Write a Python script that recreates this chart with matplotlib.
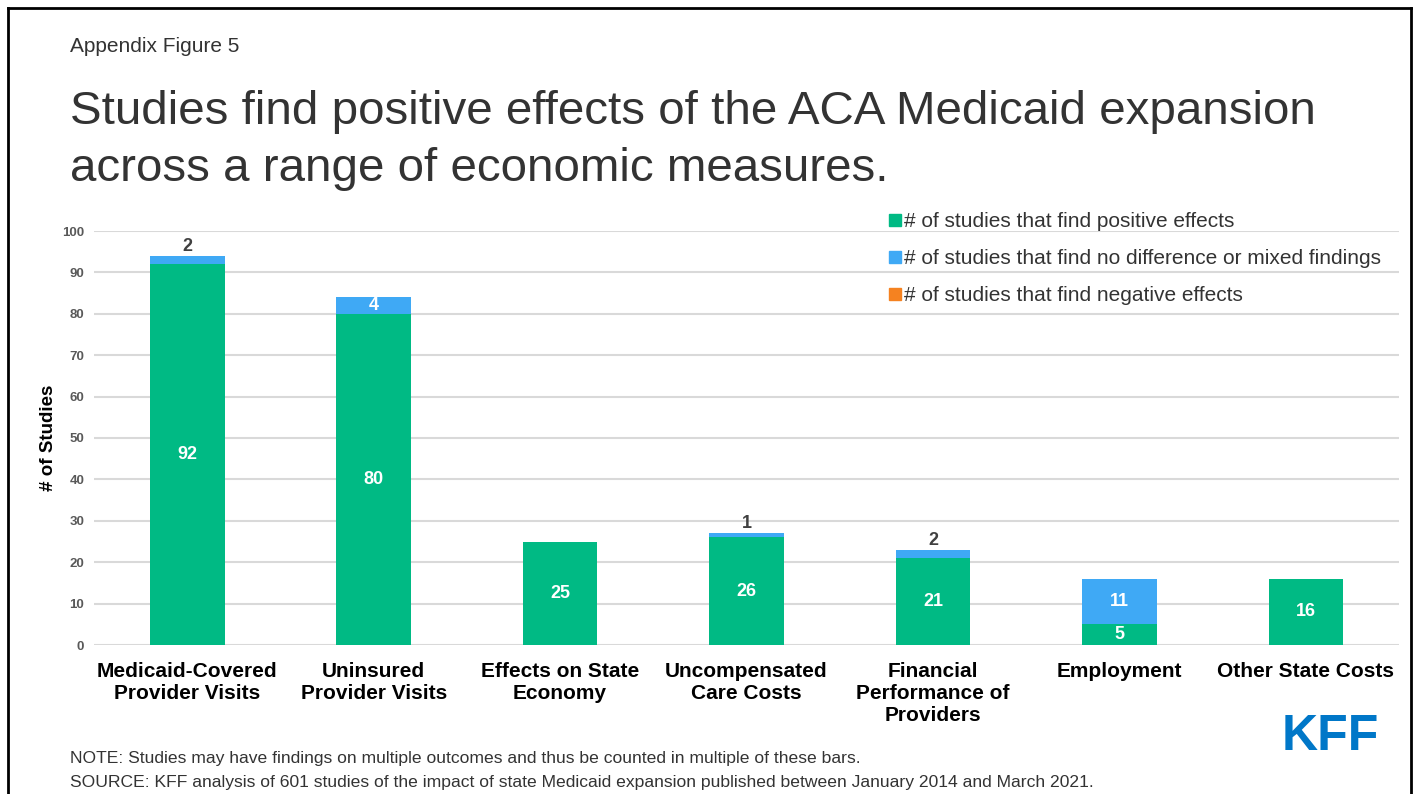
import numpy as np
import matplotlib
matplotlib.use("Agg")
from matplotlib import pyplot as plt
from matplotlib.lines import Line2D

plt.rcParams['font.family'] = ['Liberation Sans', 'DejaVu Sans']

# data
categories = ['Medicaid-Covered\nProvider Visits', 'Uninsured\nProvider Visits',
              'Effects on State\nEconomy', 'Uncompensated\nCare Costs',
              'Financial\nPerformance of\nProviders', 'Employment', 'Other State Costs']
positive = [92, 80, 25, 26, 21, 5, 16]
mixed = [2, 4, 0, 1, 2, 11, 0]
negative = [0, 0, 0, 0, 0, 0, 0]
yticks = [0, 10, 20, 30, 40, 50, 60, 70, 80, 90, 100]
legend_labels = ['# of studies that find positive effects',
                 '# of studies that find no difference or mixed findings',
                 '# of studies that find negative effects']

green = '#00BA84'
blue = '#3FA9F5'
orange = '#F58220'

W, H = 1419, 794
fig = plt.figure(figsize=(W / 100, H / 100), dpi=100)
ax = fig.add_axes([94 / W, 1 - 645 / H, (1399 - 94) / W, (645 - 231) / H])

x = np.arange(len(categories))
bw = 0.4
ax.bar(x, positive, bw, color=green, zorder=3)
ax.bar(x, mixed, bw, bottom=positive, color=blue, zorder=3)
neg_bottom = np.array(positive) + np.array(mixed)
ax.bar(x, negative, bw, bottom=neg_bottom, color=orange, zorder=3)

# value labels
for i in range(len(x)):
    ax.text(x[i], positive[i] / 2, str(positive[i]), ha='center', va='center',
            color='white', fontsize=13, fontweight='bold', zorder=4)
    m = mixed[i]
    if m == 0:
        continue
    if m >= 4:
        ax.text(x[i], positive[i] + m / 2, str(m), ha='center', va='center',
                color='white', fontsize=13, fontweight='bold', zorder=4)
    else:
        ax.text(x[i], positive[i] + m + 0.3, str(m), ha='center', va='bottom',
                color='#404040', fontsize=13, fontweight='bold', zorder=4)

ax.set_xlim(-0.5, len(categories) - 0.5)
ax.set_ylim(0, 100)
ax.set_yticks(yticks)
ax.yaxis.grid(True, color='#d9d9d9', linewidth=1.5, zorder=0)
ax.set_axisbelow(True)
for s in ax.spines.values():
    s.set_visible(False)
ax.tick_params(axis='y', length=0, pad=7, labelsize=9.5, labelcolor='#595959')
for lab in ax.get_yticklabels():
    lab.set_fontweight('bold')
ax.set_xticks(x)
ax.set_xticklabels(categories, fontsize=15, fontweight='bold', color='black',
                   linespacing=1.22, va='top')
ax.tick_params(axis='x', length=0, pad=12)
ax.set_ylabel('# of Studies', fontsize=13.5, fontweight='bold')
ax.yaxis.set_label_coords(-0.028, 0.5)

# legend
handles = [Line2D([], [], marker='s', linestyle='none', color=c, markersize=8)
           for c in (green, blue, orange)]
fig.legend(handles, legend_labels, loc='upper left',
           bbox_to_anchor=(889 / W, 1 - 212 / H), frameon=False,
           fontsize=15, labelcolor='#333333', handlelength=0.55,
           handletextpad=0.15, labelspacing=0.86, borderpad=0, borderaxespad=0)

# titles and notes
fig.text(70 / W, 1 - 46 / H, 'Appendix Figure 5', fontsize=15, color='#333333',
         va='center')
fig.text(70 / W, 1 - 140.5 / H,
         'Studies find positive effects of the ACA Medicaid expansion\n'
         'across a range of economic measures.',
         fontsize=34.2, color='#333333', va='center', linespacing=1.38)
fig.text(70 / W, 1 - 758 / H,
         'NOTE: Studies may have findings on multiple outcomes and thus be counted in multiple of these bars.',
         fontsize=12.6, color='#333333', va='center')
fig.text(70 / W, 1 - 782 / H,
         'SOURCE: KFF analysis of 601 studies of the impact of state Medicaid expansion published between January 2014 and March 2021.',
         fontsize=12.6, color='#333333', va='center')
fig.text(1330 / W, 1 - 737 / H, 'KFF', fontsize=36, fontweight='heavy',
         color='#0077C8', ha='center', va='center')

# border
for xs, ys in [([8, 8], [794, 8]), ([8, 1411], [8, 8]), ([1411, 1411], [8, 794])]:
    fig.add_artist(Line2D([v / W for v in xs], [1 - v / H for v in ys],
                          color='black', linewidth=2))

fig.savefig('out.png', dpi=100)
